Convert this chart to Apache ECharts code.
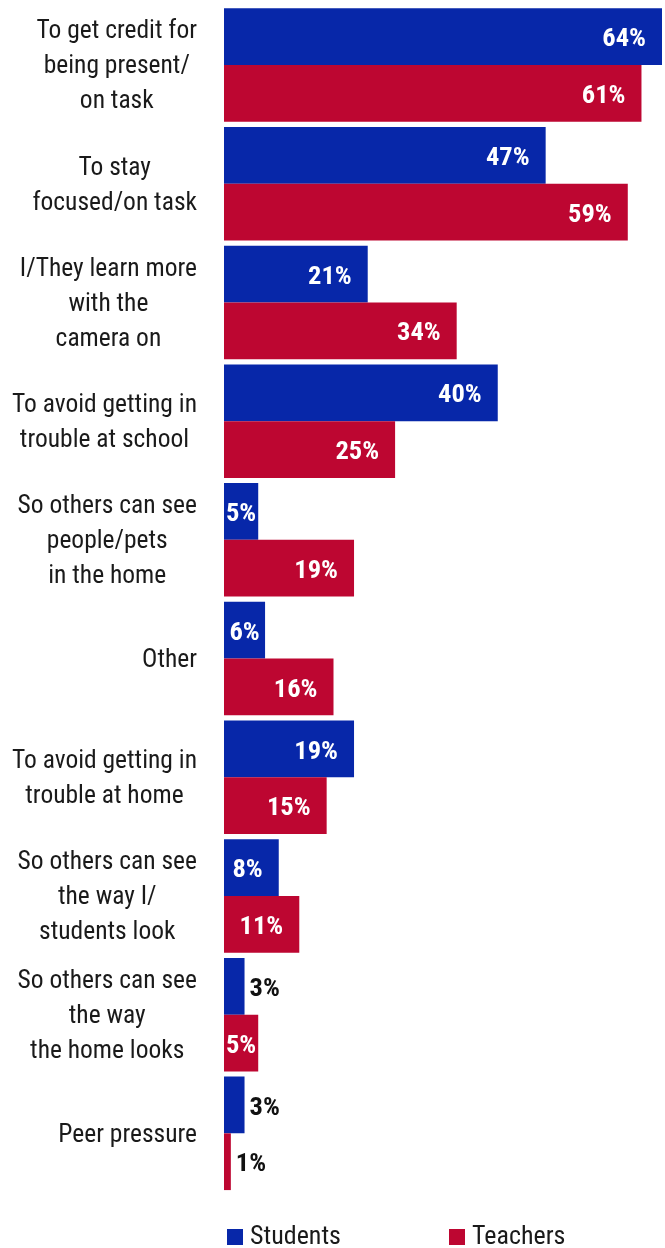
<!DOCTYPE html>
<html>
<head>
<meta charset="utf-8">
<style>
  html, body { margin: 0; padding: 0; background: #fff; }
  #chart { width: 665px; height: 1248px; }
</style>
<script src="https://cdn.jsdelivr.net/npm/echarts@6/dist/echarts.min.js"></script>
</head>
<body>
<div id="chart"></div>
<script>
// Reasons for keeping the camera on, by group (percent)
const categories = [
  'To get credit for\nbeing present/\non task',
  'To stay\nfocused/on task',
  'I/They learn more\nwith the\ncamera on',
  'To avoid getting in\ntrouble at school',
  'So others can see\npeople/pets\nin the home',
  'Other',
  'To avoid getting in\ntrouble at home',
  'So others can see\nthe way I/\nstudents look',
  'So others can see\nthe way\nthe home looks',
  'Peer pressure'
];
const students = [64, 47, 21, 40, 5, 6, 19, 8, 3, 3];
const teachers = [61, 59, 34, 25, 19, 16, 15, 11, 5, 1];
const seriesNames = ['Students', 'Teachers'];

const FONT = '"Roboto Condensed", "Liberation Sans Narrow", "DejaVu Sans Condensed", Roboto, sans-serif';
const BLUE = '#0727a9';
const RED = '#bd0631';

// Value labels: inside the bar end for wide bars, centred for narrow ones,
// and outside in dark text when the bar is too thin to hold them.
function withLabels(values) {
  return values.map(v => {
    if (v <= 3) {
      return { value: v, label: { position: 'right', distance: 5, color: '#111' } };
    }
    if (v <= 6) {
      return { value: v, label: { position: 'inside' } };
    }
    return v;
  });
}

function barSeries(name, values, color) {
  return {
    name: name,
    type: 'bar',
    data: withLabels(values),
    barGap: '0%',
    barCategoryGap: '4.4%',
    itemStyle: { color: color },
    label: {
      show: true,
      position: 'insideRight',
      distance: 16,
      offset: [0, 3],
      formatter: '{c}%',
      color: '#fff',
      fontFamily: FONT,
      fontWeight: 'bold',
      fontSize: 26.5
    },
    emphasis: { disabled: true }
  };
}

const legendText = { fontFamily: FONT, fontSize: 26, color: '#1a1a1a', padding: [0, 0, 0, 2] };

const chart = echarts.init(document.getElementById('chart'), null, { renderer: 'canvas' });

chart.setOption({
  animation: false,
  backgroundColor: '#fff',
  grid: { left: 224, right: 3, top: 5.7, bottom: 55.3, containLabel: false },
  xAxis: {
    type: 'value',
    min: 0,
    max: 64,
    show: false,
    splitLine: { show: false }
  },
  yAxis: {
    type: 'category',
    data: categories,
    inverse: true,
    axisLine: { show: false },
    axisTick: { show: false },
    axisLabel: {
      margin: 27,
      align: 'right',
      padding: [4, 0, 0, 0],
      formatter: v => v.split('\n').map(l => '{c|' + l + '}').join('\n'),
      rich: {
        c: {
          align: 'center',
          fontFamily: FONT,
          fontSize: 25.5,
          lineHeight: 35,
          color: '#1a1a1a'
        }
      }
    }
  },
  legend: [
    {
      data: [seriesNames[0]],
      left: 222, top: 1219,
      icon: 'rect', itemWidth: 16, itemHeight: 16, itemGap: 7,
      textStyle: legendText,
      selectedMode: false
    },
    {
      data: [seriesNames[1]],
      left: 444, top: 1219,
      icon: 'rect', itemWidth: 16, itemHeight: 16, itemGap: 7,
      textStyle: legendText,
      selectedMode: false
    }
  ],
  series: [
    barSeries(seriesNames[0], students, BLUE),
    barSeries(seriesNames[1], teachers, RED)
  ]
});
</script>
</body>
</html>
